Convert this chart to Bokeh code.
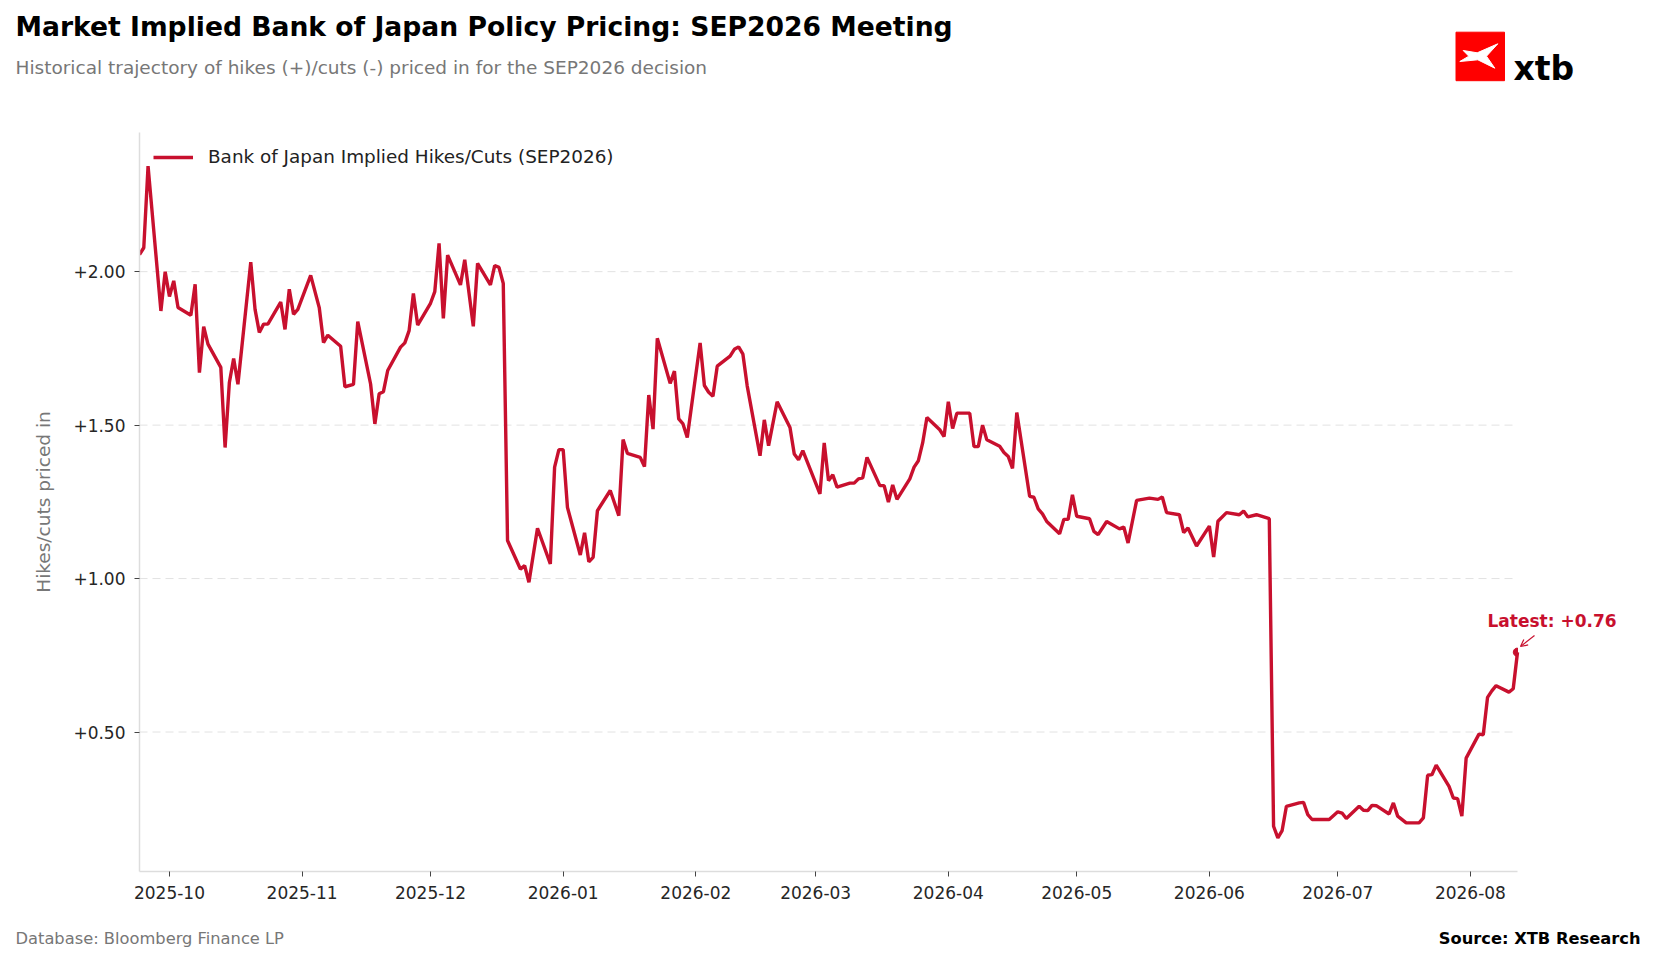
import math
import pandas as pd
from bokeh.core.properties import value
from bokeh.layouts import column
from bokeh.plotting import figure
from bokeh.models import (
    ColumnDataSource, Range1d, Label, Legend, LegendItem, MonthsTicker,
    DatetimeTickFormatter, FixedTicker, NumeralTickFormatter, Arrow, OpenHead
)
from bokeh.embed import file_html
from bokeh.resources import INLINE

FONT = "DejaVu Sans"
RED = "#c8102e"
GREY = "#777777"

title_text = "Market Implied Bank of Japan Policy Pricing: SEP2026 Meeting"
subtitle_text = "Historical trajectory of hikes (+)/cuts (-) priced in for the SEP2026 decision"
series_name = "Bank of Japan Implied Hikes/Cuts (SEP2026)"
y_label = "Hikes/cuts priced in"
footer_left = "Database: Bloomberg Finance LP"
footer_right = "Source: XTB Research"
y_ticks = [0.5, 1.0, 1.5, 2.0]

dates = [
    "2025-09-24", "2025-09-25", "2025-09-26", "2025-09-29", "2025-09-30",
    "2025-10-01", "2025-10-02", "2025-10-03", "2025-10-06", "2025-10-07",
    "2025-10-08", "2025-10-09", "2025-10-10", "2025-10-13", "2025-10-14",
    "2025-10-15", "2025-10-16", "2025-10-17", "2025-10-20", "2025-10-21",
    "2025-10-22", "2025-10-23", "2025-10-24", "2025-10-27", "2025-10-28",
    "2025-10-29", "2025-10-30", "2025-10-31", "2025-11-03", "2025-11-05",
    "2025-11-06", "2025-11-07", "2025-11-10", "2025-11-11", "2025-11-13",
    "2025-11-14", "2025-11-17", "2025-11-18", "2025-11-19", "2025-11-20",
    "2025-11-21", "2025-11-24", "2025-11-25", "2025-11-26", "2025-11-27",
    "2025-11-28", "2025-12-01", "2025-12-02", "2025-12-03", "2025-12-04",
    "2025-12-05", "2025-12-08", "2025-12-09", "2025-12-11", "2025-12-12",
    "2025-12-15", "2025-12-16", "2025-12-17", "2025-12-18", "2025-12-19",
    "2025-12-22", "2025-12-23", "2025-12-24", "2025-12-26", "2025-12-29",
    "2025-12-30", "2025-12-31", "2026-01-01", "2026-01-02", "2026-01-05",
    "2026-01-06", "2026-01-07", "2026-01-08", "2026-01-09", "2026-01-12",
    "2026-01-14", "2026-01-15", "2026-01-16", "2026-01-19", "2026-01-20",
    "2026-01-21", "2026-01-22", "2026-01-23", "2026-01-26", "2026-01-27",
    "2026-01-28", "2026-01-29", "2026-01-30", "2026-02-02", "2026-02-03",
    "2026-02-04", "2026-02-05", "2026-02-06", "2026-02-09", "2026-02-10",
    "2026-02-11", "2026-02-12", "2026-02-13", "2026-02-16", "2026-02-17",
    "2026-02-18", "2026-02-20", "2026-02-23", "2026-02-24", "2026-02-25",
    "2026-02-26", "2026-03-02", "2026-03-03", "2026-03-04", "2026-03-05",
    "2026-03-06", "2026-03-09", "2026-03-10", "2026-03-11", "2026-03-12",
    "2026-03-13", "2026-03-16", "2026-03-17", "2026-03-18", "2026-03-19",
    "2026-03-20", "2026-03-23", "2026-03-24", "2026-03-25", "2026-03-26",
    "2026-03-27", "2026-03-30", "2026-03-31", "2026-04-01", "2026-04-02",
    "2026-04-03", "2026-04-06", "2026-04-07", "2026-04-08", "2026-04-09",
    "2026-04-10", "2026-04-13", "2026-04-14", "2026-04-15", "2026-04-16",
    "2026-04-17", "2026-04-20", "2026-04-21", "2026-04-22", "2026-04-23",
    "2026-04-24", "2026-04-27", "2026-04-28", "2026-04-29", "2026-04-30",
    "2026-05-01", "2026-05-04", "2026-05-05", "2026-05-06", "2026-05-08",
    "2026-05-11", "2026-05-12", "2026-05-13", "2026-05-15", "2026-05-18",
    "2026-05-20", "2026-05-21", "2026-05-22", "2026-05-25", "2026-05-26",
    "2026-05-27", "2026-05-29", "2026-06-01", "2026-06-02", "2026-06-03",
    "2026-06-05", "2026-06-08", "2026-06-09", "2026-06-10", "2026-06-12",
    "2026-06-15", "2026-06-16", "2026-06-17", "2026-06-18", "2026-06-19",
    "2026-06-22", "2026-06-23", "2026-06-24", "2026-06-25", "2026-06-29",
    "2026-07-01", "2026-07-02", "2026-07-03", "2026-07-06", "2026-07-07",
    "2026-07-08", "2026-07-09", "2026-07-10", "2026-07-13", "2026-07-14",
    "2026-07-15", "2026-07-17", "2026-07-20", "2026-07-21", "2026-07-22",
    "2026-07-23", "2026-07-24", "2026-07-27", "2026-07-28", "2026-07-29",
    "2026-07-30", "2026-07-31", "2026-08-03", "2026-08-04", "2026-08-05",
    "2026-08-06", "2026-08-07", "2026-08-10", "2026-08-11", "2026-08-12",
]

values = [
    2.056, 2.078, 2.344, 1.872, 2.000,
    1.919, 1.970, 1.883, 1.858, 1.959,
    1.671, 1.821, 1.764, 1.688, 1.427,
    1.639, 1.717, 1.633, 2.031, 1.877,
    1.802, 1.829, 1.829, 1.901, 1.812,
    1.943, 1.861, 1.877, 1.988, 1.883,
    1.769, 1.793, 1.757, 1.625, 1.633,
    1.837, 1.634, 1.504, 1.602, 1.609,
    1.678, 1.754, 1.768, 1.808, 1.929,
    1.826, 1.897, 1.935, 2.092, 1.848,
    2.054, 1.957, 2.039, 1.822, 2.027,
    1.957, 2.020, 2.014, 1.962, 1.124,
    1.031, 1.042, 0.988, 1.164, 1.048,
    1.363, 1.420, 1.420, 1.232, 1.077,
    1.149, 1.055, 1.069, 1.221, 1.287,
    1.205, 1.453, 1.408, 1.395, 1.365,
    1.598, 1.487, 1.783, 1.636, 1.676,
    1.520, 1.504, 1.460, 1.768, 1.629,
    1.607, 1.594, 1.692, 1.725, 1.747,
    1.755, 1.731, 1.628, 1.400, 1.517,
    1.433, 1.576, 1.492, 1.406, 1.387,
    1.417, 1.276, 1.442, 1.319, 1.338,
    1.298, 1.311, 1.311, 1.325, 1.328,
    1.395, 1.303, 1.303, 1.249, 1.305,
    1.258, 1.325, 1.363, 1.384, 1.442,
    1.525, 1.485, 1.463, 1.576, 1.489,
    1.539, 1.539, 1.430, 1.430, 1.500,
    1.452, 1.431, 1.411, 1.398, 1.359,
    1.541, 1.268, 1.265, 1.227, 1.211,
    1.186, 1.146, 1.193, 1.193, 1.273,
    1.203, 1.195, 1.154, 1.143, 1.186,
    1.162, 1.168, 1.116, 1.255, 1.262,
    1.258, 1.266, 1.215, 1.208, 1.150,
    1.165, 1.106, 1.171, 1.070, 1.187,
    1.215, 1.208, 1.220, 1.201, 1.208,
    1.195, 0.193, 0.155, 0.179, 0.258,
    0.269, 0.271, 0.231, 0.215, 0.215,
    0.240, 0.236, 0.218, 0.258, 0.245,
    0.244, 0.261, 0.260, 0.233, 0.269,
    0.226, 0.204, 0.204, 0.220, 0.359,
    0.361, 0.392, 0.323, 0.285, 0.283,
    0.226, 0.415, 0.493, 0.491, 0.613,
    0.634, 0.651, 0.630, 0.641, 0.760,
]

df = pd.DataFrame({"date": pd.to_datetime(dates), "value": values})
source = ColumnDataSource(df)
last = ColumnDataSource(df.tail(1))

# page geometry in pixels (the page has no margin)
W, H = 1655, 962
HEAD_H = 132                         # header strip, ends at the frame top
FL, FR, FB = 139, 1517, 871          # frame left, data right edge, frame bottom
MAIN_BOTTOM = 45
MAIN_H = FB - HEAD_H + MAIN_BOTTOM
FOOT_H = H - HEAD_H - MAIN_H


def bare_figure(height, y0, y1):
    f = figure(width=W, height=height, output_backend="svg", toolbar_location=None,
               tools="", x_range=Range1d(0, W), y_range=Range1d(y1, y0),
               x_axis_location=None, y_axis_location=None,
               min_border=0, min_border_left=0, min_border_right=0,
               min_border_top=0, min_border_bottom=0)
    f.grid.visible = False
    f.outline_line_color = None
    f.frame_align = False
    return f


# ---------- header ----------
head = bare_figure(HEAD_H, 0, HEAD_H)
head.text(x=[15], y=[26.4], text=[title_text], text_font=value(FONT),
          text_font_size="26.6px", text_font_style="bold", text_color="black",
          text_baseline="middle")
head.text(x=[15], y=[66.5], text=[subtitle_text], text_font=value(FONT),
          text_font_size="18.5px", text_color=GREY, text_baseline="middle")
head.quad(left=[1455.5], right=[1504], top=[31.7], bottom=[80.2], color="#ff0000")
logo_x = [1462.7, 1476.7, 1497.3, 1486.0, 1494.3, 1477.3, 1459.3, 1468.3]
logo_y = [50.0, 52.3, 43.3, 55.7, 67.7, 59.3, 61.0, 55.7]
head.patch(logo_x, logo_y, color="white")
head.text(x=[1513], y=[68.3], text=["xtb"], text_font=value(FONT),
          text_font_size="33px", text_font_style="bold", text_color="black",
          text_baseline="alphabetic")

# ---------- main chart ----------
start = df["date"].iloc[0].to_pydatetime()
end = df["date"].iloc[-1].to_pydatetime()
x_end = start + (end - start) * ((W - FL) / (FR - FL))
lo, hi = min(values), max(values)
pad = (hi - lo) * 0.05

p = figure(width=W, height=MAIN_H, x_axis_type="datetime", output_backend="svg",
           toolbar_location=None, tools="",
           x_range=Range1d(start, x_end), y_range=Range1d(lo - pad, hi + pad),
           min_border_left=FL, min_border_top=0, min_border_right=0,
           min_border_bottom=MAIN_BOTTOM)
p.outline_line_color = None
p.grid.visible = False
p.frame_align = False

p.segment(x0=[start] * len(y_ticks), x1=[end] * len(y_ticks), y0=y_ticks, y1=y_ticks,
          line_color="#e2e2e2", line_width=1, line_dash="8 5")

r = p.line("date", "value", source=source, color=RED, line_width=3.4)
p.wedge(x="date", y="value", source=last, radius=4.2, radius_units="screen",
        start_angle=math.pi / 2, end_angle=3 * math.pi / 2, color=RED)

p.xaxis.ticker = MonthsTicker(months=list(range(1, 13)))
p.xaxis.formatter = DatetimeTickFormatter(days="%Y-%m", months="%Y-%m", years="%Y-%m")
p.xaxis.bounds = (start, end)
p.yaxis.ticker = FixedTicker(ticks=y_ticks)
p.yaxis.formatter = NumeralTickFormatter(format="+0.00")
for ax in (p.xaxis, p.yaxis):
    ax.axis_line_color = "#dddddd"
    ax.axis_line_width = 1.5
    ax.major_tick_line_color = "#444444"
    ax.major_tick_out = 5
    ax.major_tick_in = 0
    ax.minor_tick_line_color = None
    ax.major_label_text_font = FONT
    ax.major_label_text_font_size = "17px"
    ax.major_label_text_color = "#262626"
p.xaxis.major_label_standoff = 9
p.yaxis.major_label_standoff = 9
p.yaxis.axis_label = y_label
p.yaxis.axis_label_text_font = FONT
p.yaxis.axis_label_text_font_size = "18.5px"
p.yaxis.axis_label_text_font_style = "normal"
p.yaxis.axis_label_text_color = GREY
p.yaxis.axis_label_standoff = 16

legend = Legend(items=[LegendItem(label=series_name, renderers=[r])],
                location="top_left", margin=14, padding=0,
                glyph_width=40, glyph_height=16, label_standoff=15,
                label_text_font=FONT, label_text_font_size="18.4px",
                label_text_color="#222222",
                border_line_color=None, background_fill_alpha=0)
p.add_layout(legend)

# latest value call-out (screen units measured from the frame's bottom left)
p.add_layout(Label(x=1487 - FL, y=FB - 620, x_units="screen", y_units="screen",
                   text=f"Latest: {values[-1]:+.2f}", text_font=FONT,
                   text_font_size="17px", text_font_style="bold",
                   text_color=RED, text_baseline="middle"))
p.add_layout(Arrow(x_start=1534 - FL, y_start=FB - 635, x_end=1520 - FL, y_end=FB - 646,
                   start_units="screen", end_units="screen",
                   line_color=RED, line_width=1.2,
                   end=OpenHead(size=7, line_color=RED, line_width=1.2)))

# ---------- footer ----------
foot = bare_figure(FOOT_H, H - FOOT_H, H)
foot.text(x=[15], y=[938], text=[footer_left], text_font=value(FONT),
          text_font_size="16.3px", text_color=GREY, text_baseline="middle")
foot.text(x=[1640], y=[938], text=[footer_right], text_font=value(FONT),
          text_font_size="16.3px", text_font_style="bold", text_color="black",
          text_baseline="middle", text_align="right")

page = column(head, p, foot, spacing=0)
open("out.html", "w").write(file_html(page, INLINE))
